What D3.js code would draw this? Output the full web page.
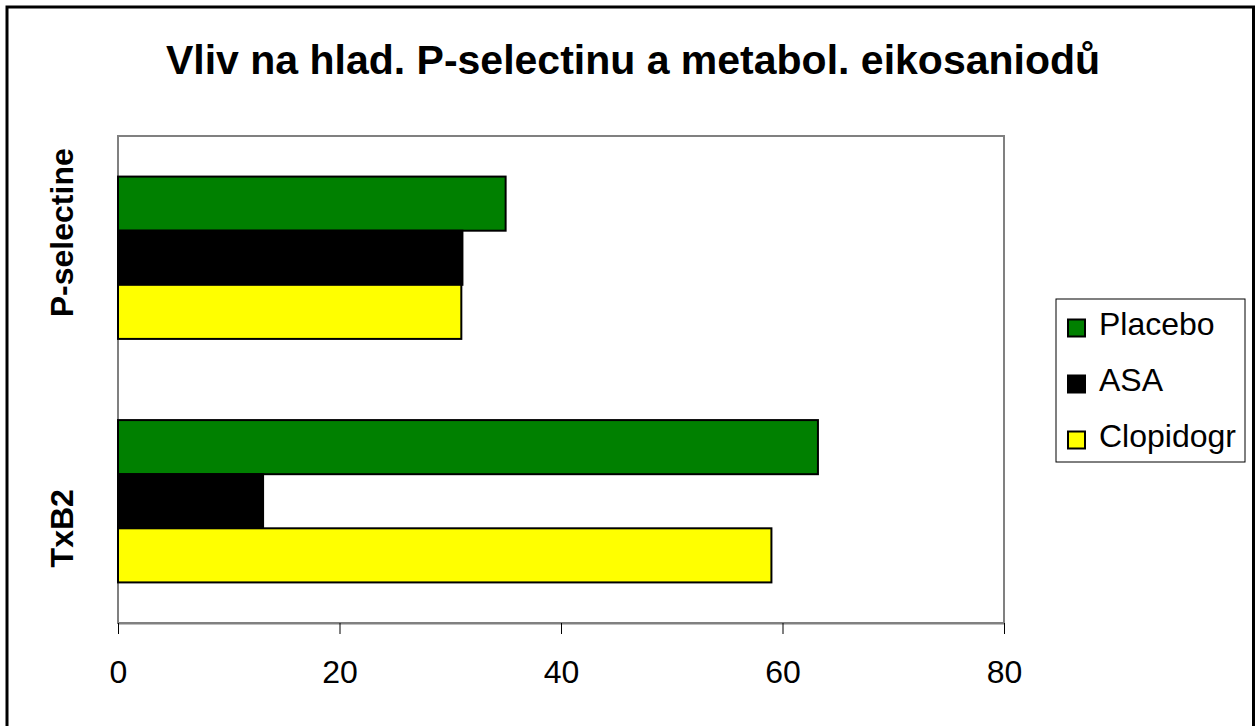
<!DOCTYPE html>
<html>
<head>
<meta charset="utf-8">
<script src="https://cdn.jsdelivr.net/npm/d3@7"></script>
<style>
  body { margin: 0; background: #fff; }
  svg { display: block; font-family: Arial, "Liberation Sans", sans-serif; }
</style>
</head>
<body>
<svg width="1258" height="726"></svg>
<script>
// chart values
var categories = ["P-selectine", "TxB2"];
var series = ["Placebo", "ASA", "Clopidogr"];
var placebo = [35.0, 63.2];
var asa = [31.1, 13.1];
var clopidogr = [31.0, 59.0];
var xTicks = [0, 20, 40, 60, 80];
var colors = ["#008000", "#000000", "#ffff00"];
var title = "Vliv na hlad. P-selectinu a metabol. eikosaniodů";

var values = [placebo, asa, clopidogr];
var rows = [];
categories.forEach(function(c, i) {
  series.forEach(function(s, j) {
    rows.push({cat: c, ser: s, value: values[j][i], color: colors[j]});
  });
});

var svg = d3.select("svg");

// outer frame (bottom edge runs off the picture)
svg.append("rect")
    .attr("x", 7).attr("y", 7)
    .attr("width", 1246.5).attr("height", 740)
    .style("fill", "none")
    .style("stroke", "#000")
    .style("stroke-width", 3);

svg.append("text")
    .attr("x", 633).attr("y", 74)
    .style("text-anchor", "middle")
    .style("font-size", "41px")
    .style("font-weight", "bold")
    .text(title);

// plot area (window.top is reserved, so prefix the names)
var plotLeft = 118, plotRight = 1004, plotTop = 136, plotBottom = 623;

var x = d3.scaleLinear().domain([0, 80]).range([plotLeft, plotRight]);
var y0 = d3.scaleBand().domain(categories).range([plotTop, plotBottom]);
var y1 = d3.scaleBand().domain(series).range([0, y0.bandwidth()]).paddingOuter(0.75);

svg.append("rect")
    .attr("x", plotLeft).attr("y", plotTop)
    .attr("width", plotRight - plotLeft).attr("height", plotBottom - plotTop)
    .style("fill", "#fff")
    .style("stroke", "#808080")
    .style("stroke-width", 2);

svg.selectAll("rect.bar").data(rows).enter().append("rect")
    .attr("class", "bar")
    .attr("x", x(0))
    .attr("y", function(d) { return y0(d.cat) + y1(d.ser); })
    .attr("width", function(d) { return x(d.value) - x(0); })
    .attr("height", y1.bandwidth())
    .style("fill", function(d) { return d.color; })
    .style("stroke", "#000")
    .style("stroke-width", 2);

// x axis
var xAxis = svg.append("g")
    .attr("transform", "translate(0," + plotBottom + ")")
    .call(d3.axisBottom(x).tickValues(xTicks).tickSize(11).tickSizeOuter(0));
xAxis.select(".domain").style("stroke", "#808080").style("stroke-width", 2);
xAxis.selectAll(".tick line").style("stroke", "#000").style("stroke-width", 1);
xAxis.selectAll(".tick text")
    .attr("y", 60).attr("dy", null)
    .style("font-size", "32px")
    .style("font-family", "Arial, 'Liberation Sans', sans-serif")
    .style("fill", "#000");

// category labels, rotated
svg.selectAll("text.cat").data(categories).enter().append("text")
    .attr("class", "cat")
    .attr("transform", function(d, i) {
      var cy = y0(d) + y0.bandwidth() / 2 + (i === 0 ? -25 : 27);
      return "translate(73," + cy + ") rotate(-90)";
    })
    .style("text-anchor", "middle")
    .style("font-size", "32px")
    .style("font-weight", "bold")
    .text(function(d) { return d; });

// legend
var legend = svg.append("g");
legend.append("rect")
    .attr("x", 1056).attr("y", 299)
    .attr("width", 189).attr("height", 163)
    .style("fill", "#fff")
    .style("stroke", "#000")
    .style("stroke-width", 1);

var items = legend.selectAll("g.item").data(series).enter().append("g")
    .attr("class", "item")
    .attr("transform", function(d, i) { return "translate(0," + (328 + i * 56) + ")"; });
items.append("rect")
    .attr("x", 1068).attr("y", -8.5)
    .attr("width", 17).attr("height", 17)
    .style("fill", function(d, i) { return colors[i]; })
    .style("stroke", "#000")
    .style("stroke-width", 2);
items.append("text")
    .attr("x", 1099).attr("y", 7)
    .style("font-size", "32px")
    .text(function(d) { return d; });
</script>
</body>
</html>
